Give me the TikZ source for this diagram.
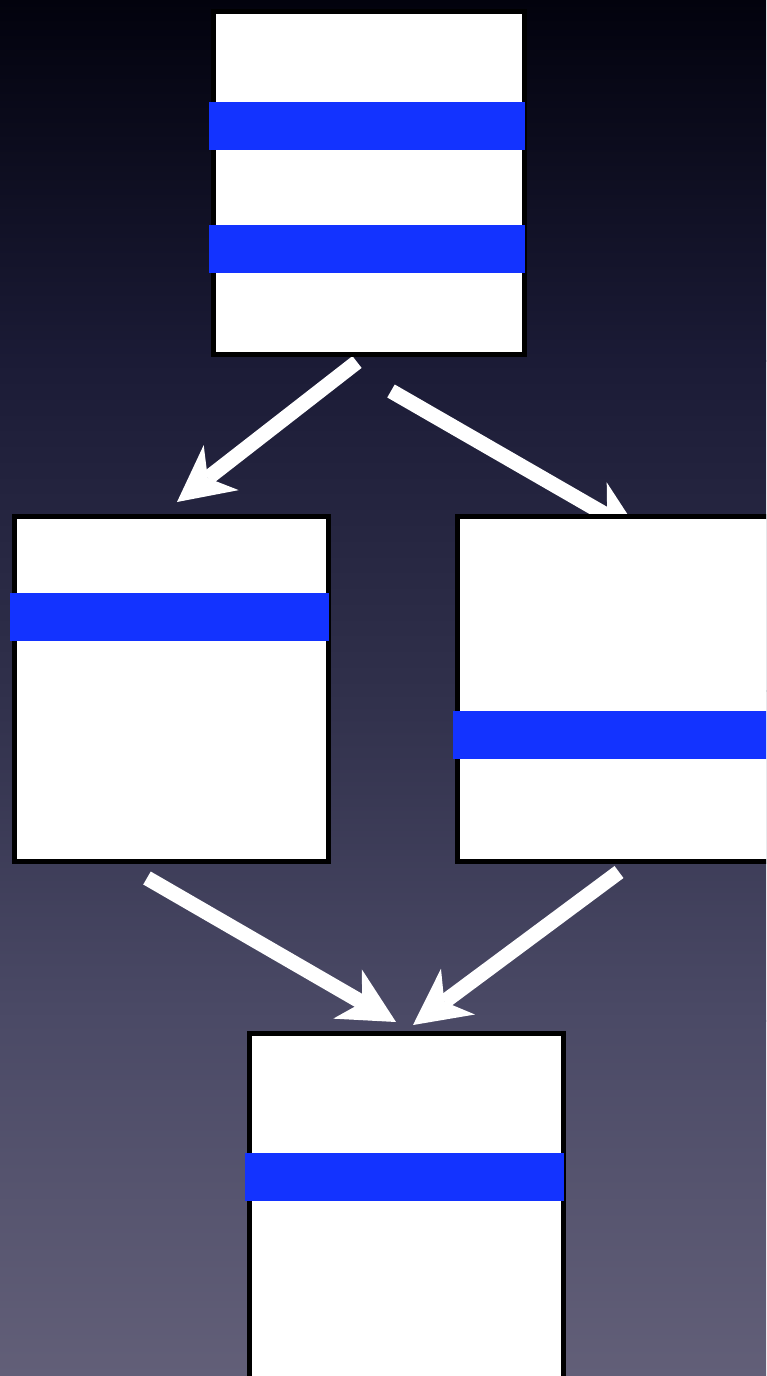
\documentclass[tikz,border=0pt]{standalone}
\usetikzlibrary{arrows.meta}
\definecolor{bandblue}{HTML}{1333FF}
\definecolor{bgA}{HTML}{02020D}
\definecolor{bgB}{HTML}{1B1B36}
\definecolor{bgC}{HTML}{30304B}
\definecolor{bgD}{HTML}{4B4A66}
\definecolor{bgE}{HTML}{625F78}
\begin{document}
\begin{tikzpicture}[x=1pt,y=-1pt,
  box/.style={draw=black, line width=5pt, fill=white, inner sep=0pt,
    anchor=north west, minimum width=#1},
  band/.style={fill=bandblue, inner sep=0pt, anchor=north west,
    minimum height=48pt, minimum width=#1},
  flowarrow/.style={draw=white, line width=15pt,
    -{Stealth[length=56pt, width=57pt, inset=17pt, line width=0pt]}}]
  % canvas and background gradient, built from stacked bands
  \useasboundingbox (0,0) rectangle (766,1376);
  \clip (0,0) rectangle (766,1376);
  \shade[top color=bgA, bottom color=bgB] (0,-1) rectangle (766,361);
  \shade[top color=bgB, bottom color=bgC] (0,360) rectangle (766,691);
  \shade[top color=bgC, bottom color=bgD] (0,690) rectangle (766,1021);
  \shade[top color=bgD, bottom color=bgE] (0,1020) rectangle (766,1377);

  % arrow end points
  \coordinate (a1s) at (357,362);
  \coordinate (a1e) at (177,502);
  \coordinate (a2s) at (391,391);
  \coordinate (a2e) at (641,535);
  \coordinate (a3s) at (147,878);
  \coordinate (a3e) at (396,1022);
  \coordinate (a4s) at (619,872);
  \coordinate (a4e) at (413,1025);

  % arrows (drawn first, boxes lie on top)
  \draw[flowarrow] (a1s) -- (a1e);
  \draw[flowarrow] (a2s) -- (a2e);
  \draw[flowarrow] (a3s) -- (a3e);
  \draw[flowarrow] (a4s) -- (a4e);

  % top box with two bands
  \node[box=311pt, minimum height=343pt] (top) at (211,9) {};
  \node[band=316pt] (topband1) at (208.5,102) {};
  \node[band=316pt] (topband2) at (208.5,225) {};

  % left box
  \node[box=314pt, minimum height=345pt] (left) at (12,514) {};
  \node[band=319pt] (leftband) at (9.5,593) {};

  % right box
  \node[box=316pt, minimum height=345pt] (right) at (455,514) {};
  \node[band=321pt] (rightband) at (452.5,711) {};

  % bottom box
  \node[box=314pt, minimum height=360pt] (bottom) at (247,1031) {};
  \node[band=319pt] (bottomband) at (244.5,1153) {};
\end{tikzpicture}
\end{document}
